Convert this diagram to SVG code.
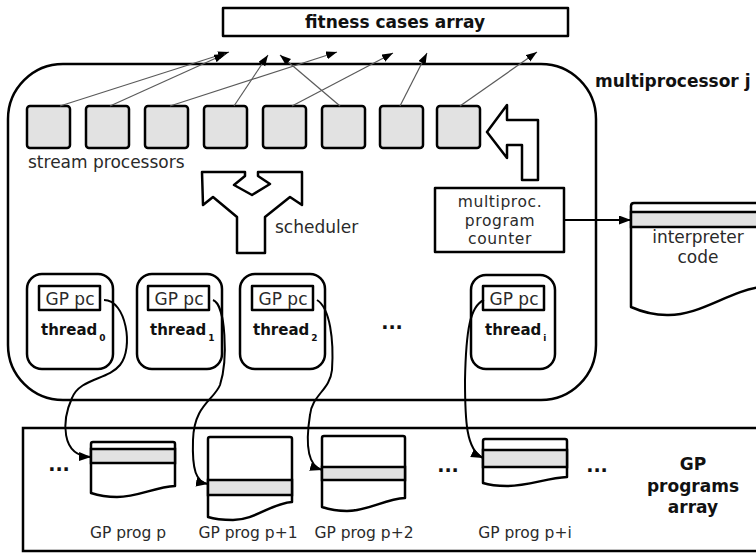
<svg xmlns="http://www.w3.org/2000/svg" width="756" height="553" viewBox="0 0 756 553">
  <style>
    .box { fill: #ffffff; stroke: #000; stroke-width: 2.5; stroke-linejoin: round; }
    .frame { fill: none; stroke: #000; stroke-width: 2.5; }
    .sp { fill: #e2e2e2; stroke: #000; stroke-width: 2.5; }
    .band { fill: #e2e2e2; stroke: #000; stroke-width: 2.5; }
    .thin { fill: none; stroke: #5a5a5a; stroke-width: 1.2; }
    .curve { fill: none; stroke: #000; stroke-width: 2; }
    .lbl { font-family: "DejaVu Sans", sans-serif; font-size: 17px; fill: #2a2a2a; }
    .pc { font-family: "DejaVu Sans", sans-serif; font-size: 15.5px; letter-spacing: 0.6px; fill: #2a2a2a; }
    .bold { font-family: "DejaVu Sans", sans-serif; font-size: 17px; font-weight: bold; fill: #111; }
    .thr { font-family: "DejaVu Sans", sans-serif; font-size: 15px; font-weight: bold; fill: #111; }
    .sub { font-size: 9px; }
    .small { font-family: "DejaVu Sans", sans-serif; font-size: 15.5px; fill: #2a2a2a; }
    .dots { font-family: "DejaVu Sans", sans-serif; font-size: 19px; font-weight: bold; fill: #111; }
  </style>
  <defs>
    <marker id="ah" markerUnits="userSpaceOnUse" markerWidth="12" markerHeight="10" refX="11" refY="4" orient="auto">
      <path d="M0,0 L11,4 L0,8 Z" fill="#000"/>
    </marker>
    <marker id="ahb" markerUnits="userSpaceOnUse" markerWidth="13" markerHeight="10" refX="12" refY="4.5" orient="auto">
      <path d="M0,0 L12,4.5 L0,9 Z" fill="#000"/>
    </marker>
  </defs>

  <!-- fitness cases array -->
  <g id="fitness-cases">
    <rect class="box" x="223" y="8" width="345" height="28"/>
    <text class="bold" x="395" y="28" text-anchor="middle">fitness cases array</text>
  </g>

  <!-- multiprocessor frame -->
  <g id="multiprocessor">
    <rect class="frame" x="8" y="64" width="588" height="336" rx="55" ry="55"/>
    <text class="bold" x="595" y="87">multiprocessor j</text>
  </g>

  <!-- stream processors -->
  <g id="stream-processors">
    <rect class="sp" x="27" y="106" width="43" height="42" rx="3"/>
    <rect class="sp" x="86" y="106" width="43" height="42" rx="3"/>
    <rect class="sp" x="145" y="106" width="43" height="42" rx="3"/>
    <rect class="sp" x="204" y="106" width="43" height="42" rx="3"/>
    <rect class="sp" x="263" y="106" width="43" height="42" rx="3"/>
    <rect class="sp" x="322" y="106" width="43" height="42" rx="3"/>
    <rect class="sp" x="380" y="106" width="43" height="42" rx="3"/>
    <rect class="sp" x="437" y="106" width="43" height="42" rx="3"/>
    <text class="lbl" x="28" y="168">stream processors</text>
  </g>

  <!-- scheduler fork -->
  <g id="scheduler">
    <path class="box" d="M202,172 L245,172 L245,176 L234,185 L252,195 L270,184 L258,176 L258,172 L302,172 L302,205 L290,197 L265,217 L265,253 L237,253 L237,217 L213,197 L203,205 Z"/>
    <text class="lbl" x="275" y="233">scheduler</text>
  </g>

  <!-- block arrow from program counter to stream processors -->
  <g id="pc-arrow">
    <path class="box" d="M487,132 L507,105 L507,120 L538,120 L538,180 L522,180 L522,145 L507,145 L507,158 Z"/>
  </g>

  <!-- multiprocessor program counter -->
  <g id="program-counter">
    <rect class="box" x="435" y="188" width="129" height="64"/>
    <text class="pc" x="500" y="207" text-anchor="middle">multiproc.</text>
    <text class="pc" x="500" y="225.5" text-anchor="middle">program</text>
    <text class="pc" x="500" y="244" text-anchor="middle">counter</text>
  </g>

  <!-- interpreter code -->
  <g id="interpreter-code">
    <path class="box" d="M631,307 L631,206 Q631,203 634,203 L762,203 L762,287 C730,290 700,316 667,315 C652,315 640,311 631,307 Z"/>
    <rect class="band" x="631" y="212" width="131" height="15"/>
    <text class="lbl" x="698" y="243" text-anchor="middle">interpreter</text>
    <text class="lbl" x="698" y="263" text-anchor="middle">code</text>
  </g>

  <!-- threads -->
  <g id="thread-0">
    <rect class="box" x="27" y="274" width="86" height="95" rx="15"/>
    <rect class="box" x="39" y="286" width="61" height="24"/>
    <text class="lbl" x="70" y="305" text-anchor="middle" font-size="16">GP pc</text>
    <text class="thr" x="41" y="335">thread<tspan class="sub" dx="2" dy="6">0</tspan></text>
  </g>
  <g id="thread-1">
    <rect class="box" x="137" y="274" width="85" height="95" rx="15"/>
    <rect class="box" x="148" y="286" width="61" height="24"/>
    <text class="lbl" x="179" y="305" text-anchor="middle" font-size="16">GP pc</text>
    <text class="thr" x="150" y="335">thread<tspan class="sub" dx="2" dy="6">1</tspan></text>
  </g>
  <g id="thread-2">
    <rect class="box" x="240" y="274" width="85" height="95" rx="15"/>
    <rect class="box" x="252" y="286" width="61" height="24"/>
    <text class="lbl" x="283" y="305" text-anchor="middle" font-size="16">GP pc</text>
    <text class="thr" x="253" y="335">thread<tspan class="sub" dx="2" dy="6">2</tspan></text>
  </g>
  <text class="dots" x="392" y="329" text-anchor="middle">...</text>
  <g id="thread-i">
    <rect class="box" x="471" y="275" width="84" height="94" rx="15"/>
    <rect class="box" x="483" y="286" width="61" height="24"/>
    <text class="lbl" x="514" y="305" text-anchor="middle" font-size="16">GP pc</text>
    <text class="thr" x="485" y="335">thread<tspan class="sub" dx="2" dy="6">i</tspan></text>
  </g>

  <!-- GP programs array -->
  <g id="gp-programs">
    <rect class="frame" x="23" y="428" width="760" height="123"/>
    <text class="dots" x="59" y="471" text-anchor="middle">...</text>
    <text class="dots" x="448" y="472" text-anchor="middle">...</text>
    <text class="dots" x="597" y="472" text-anchor="middle">...</text>
    <text class="bold" x="693" y="470" text-anchor="middle">GP</text>
    <text class="bold" x="693" y="492" text-anchor="middle">programs</text>
    <text class="bold" x="693" y="513" text-anchor="middle">array</text>
  </g>
  <g id="prog-p">
    <path class="box" d="M91,493 L91,444 Q91,442 93,442 L173,442 Q175,442 175,444 L175,486 C155,487 138,497 117,497 C105,497 97,495 91,493 Z"/>
    <rect class="band" x="91" y="449" width="84" height="14"/>
    <text class="small" x="128" y="538" text-anchor="middle">GP prog p</text>
  </g>
  <g id="prog-p1">
    <path class="box" d="M208,517 L208,439 Q208,437 210,437 L290,437 Q292,437 292,439 L292,502 C272,503 255,520 233,520 C222,520 214,519 208,517 Z"/>
    <rect class="band" x="208" y="480" width="84" height="15"/>
    <text class="small" x="248" y="538" text-anchor="middle">GP prog p+1</text>
  </g>
  <g id="prog-p2">
    <path class="box" d="M322,507 L322,438 Q322,436 324,436 L403,436 Q405,436 405,438 L405,498 C385,499 368,511 347,511 C336,511 328,509 322,507 Z"/>
    <rect class="band" x="322" y="467" width="83" height="13"/>
    <text class="small" x="364" y="538" text-anchor="middle">GP prog p+2</text>
  </g>
  <g id="prog-pi">
    <path class="box" d="M483,483 L483,441 Q483,439 485,439 L565,439 Q567,439 567,441 L567,477 C547,478 528,486 507,486 C497,486 489,485 483,483 Z"/>
    <rect class="band" x="483" y="450" width="84" height="17"/>
    <text class="small" x="525" y="538" text-anchor="middle">GP prog p+i</text>
  </g>

  <!-- connectors -->
  <g id="connectors">
    <line class="thin" x1="60" y1="106" x2="229" y2="52" marker-end="url(#ah)"/>
    <line class="thin" x1="110" y1="106" x2="225" y2="54" marker-end="url(#ah)"/>
    <line class="thin" x1="170" y1="106" x2="337" y2="52" marker-end="url(#ah)"/>
    <line class="thin" x1="234" y1="106" x2="268" y2="55" marker-end="url(#ah)"/>
    <line class="thin" x1="292" y1="106" x2="393" y2="53" marker-end="url(#ah)"/>
    <line class="thin" x1="340" y1="106" x2="280" y2="55" marker-end="url(#ah)"/>
    <line class="thin" x1="400" y1="106" x2="427" y2="53" marker-end="url(#ah)"/>
    <line class="thin" x1="460" y1="106" x2="537" y2="52" marker-end="url(#ah)"/>
    <line class="curve" x1="564" y1="220" x2="631" y2="220" marker-end="url(#ahb)"/>
    <path class="curve" d="M104,300 C126,300 134,348 120,365 C108,380 80,378 72,398 C62,420 60,456 91,457" marker-end="url(#ahb)"/>
    <path class="curve" d="M213,300 C226,305 228,360 220,385 C214,400 194,405 193,440 C192,470 196,482 208,484" marker-end="url(#ahb)"/>
    <path class="curve" d="M317,300 C330,308 334,340 332,370 C330,390 312,395 310,415 C306,440 306,465 322,470" marker-end="url(#ahb)"/>
    <path class="curve" d="M484,300 C470,306 466,330 465,380 C465,420 466,450 483,458" marker-end="url(#ahb)"/>
  </g>
</svg>
